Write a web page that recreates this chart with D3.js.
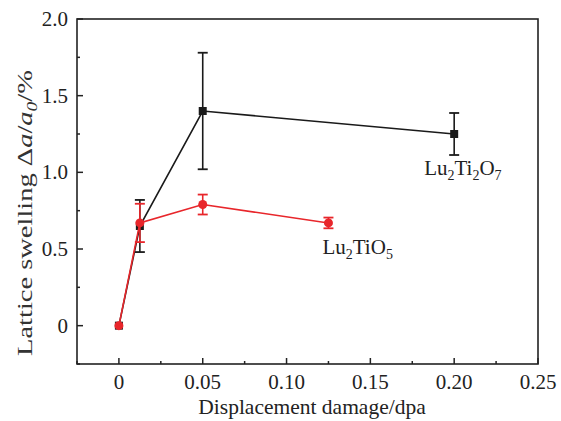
<!DOCTYPE html>
<html>
<head>
<meta charset="utf-8">
<script src="https://cdn.jsdelivr.net/npm/d3@7"></script>
<style>
  body { margin: 0; background: #fff; }
</style>
</head>
<body>
<div id="chart"></div>
<script>
// data
var dose = [0, 0.0125, 0.05, 0.20];
var swellTi2O7 = [0, 0.65, 1.40, 1.25];
var errTi2O7 = [0, 0.17, 0.38, 0.137];

var doseTiO5 = [0, 0.0125, 0.05, 0.125];
var swellTiO5 = [0, 0.67, 0.79, 0.67];
var errTiO5 = [0, 0.125, 0.065, 0.035];

var xTicks = [0, 0.05, 0.10, 0.15, 0.20, 0.25];
var xTickLabels = ["0", "0.05", "0.10", "0.15", "0.20", "0.25"];
var yTicks = [0, 0.5, 1.0, 1.5, 2.0];
var yTickLabels = ["0", "0.5", "1.0", "1.5", "2.0"];

var serif = '"Liberation Serif", "DejaVu Serif", serif';

var width = 561, height = 421,
    marginLeft = 77, marginRight = 23, marginTop = 19, marginBottom = 57,
    chartWidth = width - marginLeft - marginRight,
    chartHeight = height - marginTop - marginBottom;

var xScale = d3.scaleLinear().domain([-0.025, 0.25]).range([0, chartWidth]);
var yScale = d3.scaleLinear().domain([-0.25, 2.0]).range([chartHeight, 0]);

var svg = d3.select('#chart').append('svg')
    .attr('width', width)
    .attr('height', height)
    .style('font-family', serif);

var chartArea = svg.append('g')
    .attr('transform', 'translate(' + marginLeft + ',' + marginTop + ')');

var axisColor = "#222";

// ticks, inward
var xMinor = d3.range(-0.025, 0.2501, 0.025);
chartArea.append('g').selectAll('line').data(xMinor).enter()
    .append('line')
      .attr('x1', function(d){ return xScale(d); })
      .attr('x2', function(d){ return xScale(d); })
      .attr('y1', chartHeight)
      .attr('y2', function(d, i){ return chartHeight - (i % 2 == 1 ? 6 : 3); })
      .style('stroke', axisColor).style('stroke-width', 1.5);

var yMinor = d3.range(-0.25, 2.001, 0.25);
chartArea.append('g').selectAll('line').data(yMinor).enter()
    .append('line')
      .attr('y1', function(d){ return yScale(d); })
      .attr('y2', function(d){ return yScale(d); })
      .attr('x1', 0)
      .attr('x2', function(d, i){ return i % 2 == 1 ? 6 : 3; })
      .style('stroke', axisColor).style('stroke-width', 1.5);

// frame
chartArea.append('rect')
    .attr('x', 0).attr('y', 0)
    .attr('width', chartWidth).attr('height', chartHeight)
    .style('fill', 'none').style('stroke', axisColor).style('stroke-width', 1.6);

// tick labels
chartArea.append('g').selectAll('text').data(xTicks).enter()
    .append('text')
      .attr('x', function(d){ return xScale(d); })
      .attr('y', chartHeight + 25)
      .style('font-family', serif)
      .style('font-size', '21px')
      .style('fill', '#222')
      .style('text-anchor', 'middle')
      .text(function(d, i){ return xTickLabels[i]; });

chartArea.append('g').selectAll('text').data(yTicks).enter()
    .append('text')
      .attr('x', -9)
      .attr('y', function(d){ return yScale(d) + 7; })
      .style('font-family', serif)
      .style('font-size', '21px')
      .style('fill', '#222')
      .style('text-anchor', 'end')
      .text(function(d, i){ return yTickLabels[i]; });

// text with subscript pieces: [text, isSub, italic]
function richText(t, parts, subSize) {
    var shift = 0;
    parts.forEach(function(p){
        var target = p[1] ? 5 : 0;
        var ts = t.append('tspan').attr('dy', target - shift).text(p[0]);
        if (p[1]) ts.style('font-size', subSize);
        if (p[2]) ts.style('font-style', 'italic');
        shift = target;
    });
}

// axis titles
svg.append('text')
    .attr('x', 312)
    .attr('y', 414)
    .style('font-family', serif)
    .style('font-size', '21.5px')
    .style('fill', '#222')
    .style('text-anchor', 'middle')
    .text('Displacement damage/dpa');

var yTitle = svg.append('text')
    .attr('transform', 'translate(32,' + 356 + ') rotate(-90)')
    .attr('textLength', 286)
    .attr('lengthAdjust', 'spacingAndGlyphs')
    .style('font-family', serif)
    .style('font-size', '20.5px')
    .style('fill', '#333');
richText(yTitle, [['Lattice swelling \u0394'], ['a', 0, 1], ['/'], ['a', 0, 1], ['0', 1, 1], ['/%']], '14px');

function drawSeries(xs, ys, es, color, marker) {
    var g = chartArea.append('g');
    var idx = d3.range(xs.length);
    var line = d3.line()
        .x(function(i){ return xScale(xs[i]); })
        .y(function(i){ return yScale(ys[i]); });
    g.append('path').datum(idx)
        .attr('d', line)
        .style('fill', 'none').style('stroke', color).style('stroke-width', 1.6);

    // error bars
    var withErr = idx.filter(function(i){ return es[i] > 0; });
    var eb = g.append('g').selectAll('g').data(withErr).enter().append('g');
    eb.append('line')
        .attr('x1', function(i){ return xScale(xs[i]); })
        .attr('x2', function(i){ return xScale(xs[i]); })
        .attr('y1', function(i){ return yScale(ys[i] + es[i]); })
        .attr('y2', function(i){ return yScale(ys[i] - es[i]); })
        .style('stroke', color).style('stroke-width', 1.6);
    [1, -1].forEach(function(s){
        eb.append('line')
            .attr('x1', function(i){ return xScale(xs[i]) - 5; })
            .attr('x2', function(i){ return xScale(xs[i]) + 5; })
            .attr('y1', function(i){ return yScale(ys[i] + s * es[i]); })
            .attr('y2', function(i){ return yScale(ys[i] + s * es[i]); })
            .style('stroke', color).style('stroke-width', 1.8);
    });

    if (marker == 'square') {
        g.append('g').selectAll('rect').data(idx).enter()
            .append('rect')
              .attr('x', function(i){ return xScale(xs[i]) - 4; })
              .attr('y', function(i){ return yScale(ys[i]) - 4; })
              .attr('width', 8).attr('height', 8)
              .style('fill', color);
    } else {
        g.append('g').selectAll('circle').data(idx).enter()
            .append('circle')
              .attr('cx', function(i){ return xScale(xs[i]); })
              .attr('cy', function(i){ return yScale(ys[i]); })
              .attr('r', 4.5)
              .style('fill', color);
    }
}

drawSeries(dose, swellTi2O7, errTi2O7, '#1a1a1a', 'square');
drawSeries(doseTiO5, swellTiO5, errTiO5, '#e8262b', 'circle');

// series labels
function formula(x, y, parts) {
    var t = chartArea.append('text')
        .attr('x', x).attr('y', y)
        .style('font-family', serif)
        .style('fill', '#222')
        .style('font-size', '21px');
    richText(t, parts, '14px');
}
formula(xScale(0.20) - 30, yScale(1.25) + 41,
    [['Lu'], ['2', 1], ['Ti'], ['2', 1], ['O'], ['7', 1]]);
formula(xScale(0.125) - 6, yScale(0.67) + 31,
    [['Lu'], ['2', 1], ['TiO'], ['5', 1]]);
</script>
</body>
</html>
